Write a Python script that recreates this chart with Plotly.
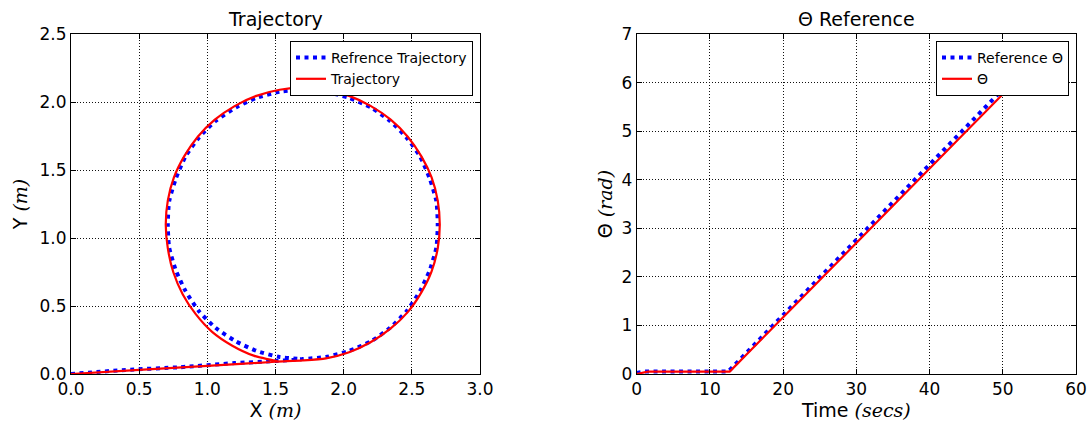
import plotly.graph_objects as go

# Reference path in the XY plane (metres): straight approach, then one full loop
ref_x = [0.00, 0.40, 0.80, 1.20, 1.50, 1.70, 1.87, 2.04, 2.20, 2.34, 2.46, 2.56, 2.63, 2.68,
         2.69, 2.68, 2.63, 2.56, 2.46, 2.34, 2.20, 2.04, 1.87, 1.70, 1.53, 1.36, 1.21, 1.06,
         0.94, 0.84, 0.77, 0.72, 0.71, 0.72, 0.77, 0.84, 0.94, 1.06, 1.21, 1.36, 1.53, 1.70]
ref_y = [0.00, 0.03, 0.05, 0.08, 0.095, 0.11, 0.125, 0.17, 0.24, 0.34, 0.46, 0.61, 0.76, 0.93,
         1.10, 1.27, 1.44, 1.60, 1.74, 1.86, 1.96, 2.03, 2.075, 2.09, 2.075, 2.03, 1.96, 1.86,
         1.74, 1.60, 1.44, 1.27, 1.10, 0.93, 0.76, 0.61, 0.46, 0.34, 0.24, 0.17, 0.125, 0.11]

# Tracked path
traj_x = [0.00, 0.50, 1.00, 1.50, 1.70, 1.87, 2.04, 2.20, 2.345, 2.47, 2.57, 2.645, 2.69,
          2.705, 2.69, 2.645, 2.57, 2.47, 2.345, 2.20, 2.04, 1.87, 1.70, 1.53, 1.36, 1.20,
          1.055, 0.93, 0.83, 0.755, 0.71, 0.695, 0.71, 0.75, 0.82, 0.915, 1.035, 1.18, 1.34,
          1.53]
traj_y = [0.00, 0.03, 0.06, 0.09, 0.10, 0.115, 0.16, 0.235, 0.335, 0.455, 0.60, 0.755, 0.925,
          1.10, 1.275, 1.445, 1.60, 1.745, 1.87, 1.97, 2.045, 2.09, 2.105, 2.09, 2.045, 1.97,
          1.87, 1.745, 1.60, 1.445, 1.275, 1.10, 0.925, 0.75, 0.585, 0.44, 0.31, 0.21, 0.135,
          0.09]

# Heading angle over time (rad)
ref_t = [0.0, 1.0, 12.5, 52.7]
ref_theta = [0.02, 0.05, 0.05, 6.28]
theta_t = [0.0, 1.5, 12.7, 53.4]
theta = [0.00, 0.05, 0.05, 6.28]

FONT = "DejaVu Sans"
MATH = "<span style=\"font-family:'DejaVu Serif'\"><i>{}</i></span>"
BLUE = "#0000ff"
RED = "#ff0000"

W, H = 1091, 421
top_px, bot_px = 34, 374
ydom = [(H - bot_px) / H, (H - top_px) / H]
xdom1 = [71 / W, 480 / W]
xdom2 = [636.7 / W, 1076 / W]

fig = go.Figure()

dot = dict(color=BLUE, width=4, dash="4px,4.5px", simplify=False)
solid = dict(color=RED, width=2.2, simplify=False)

fig.add_trace(go.Scatter(x=ref_x, y=ref_y, mode="lines", line=dict(**dot, shape="spline", smoothing=0.6),
                         name="Refrence Trajectory", xaxis="x", yaxis="y", legend="legend"))
fig.add_trace(go.Scatter(x=traj_x, y=traj_y, mode="lines", line=dict(**solid, shape="spline", smoothing=0.6),
                         name="Trajectory", xaxis="x", yaxis="y", legend="legend"))
fig.add_trace(go.Scatter(x=ref_t, y=ref_theta, mode="lines", line=dot,
                         name="Reference Θ", xaxis="x2", yaxis="y2", legend="legend2"))
fig.add_trace(go.Scatter(x=theta_t, y=theta, mode="lines", line=solid,
                         name="Θ", xaxis="x2", yaxis="y2", legend="legend2"))

axis_common = dict(
    automargin=False,
    showline=True, linecolor="black", linewidth=1, mirror="ticks",
    ticks="inside", ticklen=5, tickcolor="black",
    showgrid=True, gridcolor="#111111", gridwidth=1, griddash="1px,2px",
    zeroline=False, tickfont=dict(family=FONT, size=17, color="black"),
    title_font=dict(family=FONT, size=19, color="black"),
)

legend_common = dict(
    xanchor="right", yanchor="top", bgcolor="white", bordercolor="black", borderwidth=1,
    font=dict(family=FONT, size=14, color="black"), tracegroupgap=0,
)

fig.update_layout(
    width=W, height=H, margin=dict(l=0, r=0, t=0, b=0),
    paper_bgcolor="white", plot_bgcolor="white",
    font=dict(family=FONT, color="black"),
    xaxis=dict(domain=xdom1, range=[0, 3.0], dtick=0.5, tickformat=".1f", anchor="y",
               title=dict(text="X " + MATH.format("(m)"), standoff=2), **axis_common),
    yaxis=dict(domain=ydom, range=[0, 2.5], dtick=0.5, tickformat=".1f", anchor="x",
               title=dict(text="Y " + MATH.format("(m)"), standoff=6), **axis_common),
    xaxis2=dict(domain=xdom2, range=[0, 60], dtick=10, anchor="y2",
                title=dict(text="Time " + MATH.format("(secs)"), standoff=2), **axis_common),
    yaxis2=dict(domain=ydom, range=[0, 7], dtick=1, anchor="x2",
                title=dict(text="Θ " + MATH.format("(rad)"), standoff=3), **axis_common),
    legend=dict(x=473 / W, y=(H - 41) / H, **legend_common),
    legend2=dict(x=1069 / W, y=(H - 41) / H, **legend_common),
    showlegend=True,
    annotations=[
        dict(text="Trajectory", x=(xdom1[0] + xdom1[1]) / 2, y=ydom[1], xref="paper", yref="paper",
             xanchor="center", yanchor="bottom", yshift=2, showarrow=False,
             font=dict(family=FONT, size=19, color="black")),
        dict(text="Θ Reference", x=(xdom2[0] + xdom2[1]) / 2, y=ydom[1], xref="paper", yref="paper",
             xanchor="center", yanchor="bottom", yshift=2, showarrow=False,
             font=dict(family=FONT, size=19, color="black")),
    ],
)

fig.write_html("out.html")
